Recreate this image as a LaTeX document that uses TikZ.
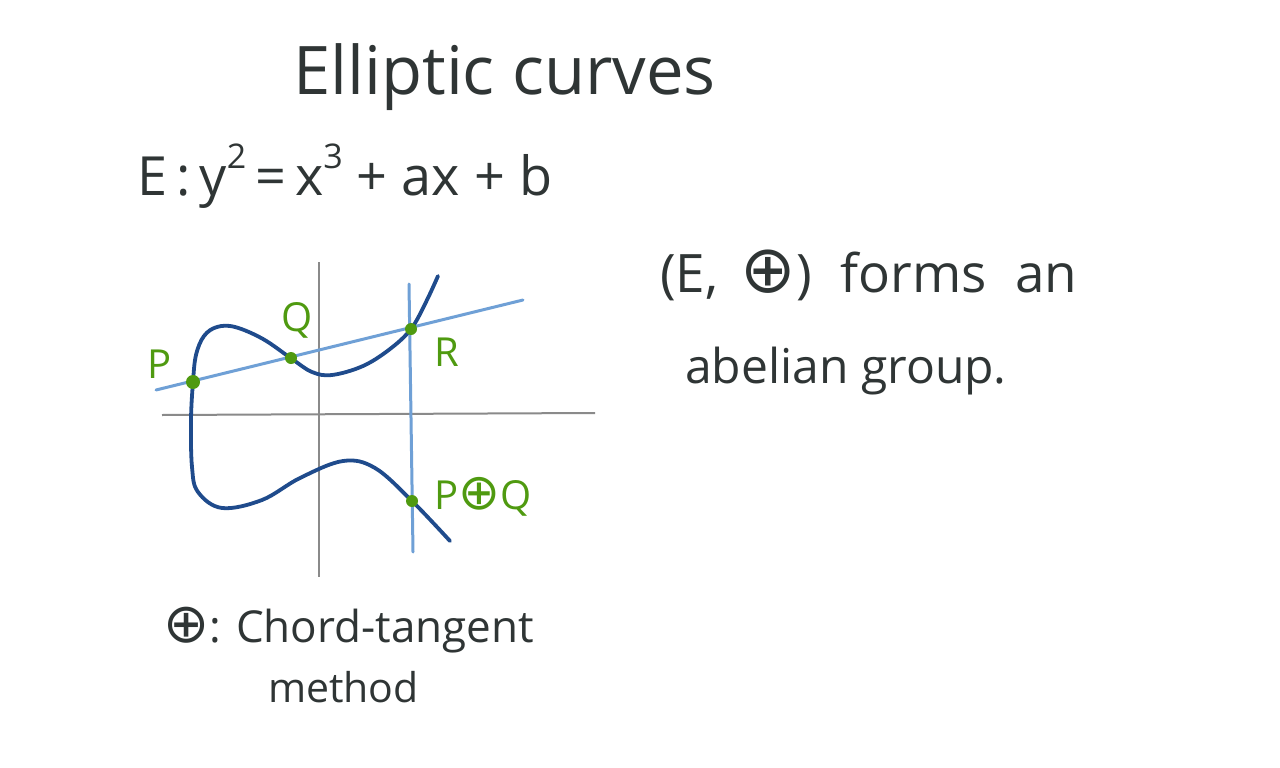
\documentclass[tikz,border=0pt]{standalone}
\usepackage{fontspec}
\setmainfont{Open Sans}
\newfontfamily\symfont{DejaVu Sans}
\newcommand{\circplus}{{\symfont\scalebox{1.25}{⊕}}}
\newcommand{\supr}[1]{\raisebox{0.5em}{\fontsize{34}{36}\selectfont #1}}
\definecolor{ink}{HTML}{2F3535}
\definecolor{curveblue}{HTML}{1F4B8C}
\definecolor{lineblue}{HTML}{6FA0D6}
\definecolor{ptgreen}{HTML}{4F9A10}
\definecolor{axisgray}{HTML}{8A8A8A}
\tikzset{
  txt/.style={inner sep=0pt, text=ink, anchor=base west},
  lbl/.style={inner sep=0pt, text=ptgreen, font=\fontsize{40}{46}\selectfont},
  pt/.style={circle, fill=ptgreen, inner sep=0pt, minimum size=12pt},
  axis/.style={draw=axisgray, line width=2pt},
  aux/.style={draw=lineblue, line width=3pt, line cap=round},
  ecurve/.style={draw=curveblue, line width=3.8pt, line cap=round, line join=round}
}
\begin{document}
\begin{tikzpicture}[x=1pt,y=-1pt]
\useasboundingbox[fill=white] (0,0) rectangle (1280,768);
% title and text
\node[txt, font=\fontsize{67}{74}\selectfont] (title) at (293,95) {Elliptic curves};
\node[txt, font=\fontsize{54}{60}\selectfont] (eq) at (137,195) {E\,:\,y\supr{2}\,=\,x\supr{3} + ax + b};
\node[txt, font=\fontsize{53}{60}\selectfont] (grp1) at (660,292) {(E,\, \circplus)\; forms\; an};
\node[txt, font=\fontsize{48}{56}\selectfont] (grp2) at (685,383) {abelian group.};
\node[txt, font=\fontsize{44}{52}\selectfont] (ct1) at (163,642) {\circplus: Chord-tangent};
\node[txt, font=\fontsize{41}{48}\selectfont] (ct2) at (268,702) {method};
% axes
\coordinate (xl) at (162,415); \coordinate (xr) at (595,413);
\coordinate (yt) at (319,262); \coordinate (yb) at (319,577);
\draw[axis] (xl) -- (xr);
\draw[axis] (yt) -- (yb);
% auxiliary lines
\coordinate (chL) at (156,390); \coordinate (chR) at (523,300);
\coordinate (vT) at (409,284); \coordinate (vB) at (413,552);
\draw[aux] (chL) -- (chR);
\draw[aux] (vT) -- (vB);
% curve
\draw[ecurve] plot[smooth, tension=0.6] coordinates {
 (438,276) (426,302) (411,329) (390,349) (363,366) (332,375) (312,372) (292,359)
 (263,339) (235,327) (217,327) (204,336) (196,355) (193,382) (191,420) (192,467)
 (198,492) (222,508) (262,500) (300,478) (343,461) (375,468) (412,501) (450,541)};
% points
\node[pt, minimum size=14pt] (P) at (193,382) {};
\node[pt] (Q) at (291,358) {};
\node[pt] (R) at (411,329) {};
\node[pt] (S) at (412,501) {};
% labels
\node[lbl] (Pl) at (160,364) {P};
\node[lbl] (Ql) at (297,320) {Q};
\node[lbl] (Rl) at (447,352) {R};
\node[lbl, anchor=west] (Sl) at (434,497) {P\circplus Q};
\end{tikzpicture}
\end{document}
